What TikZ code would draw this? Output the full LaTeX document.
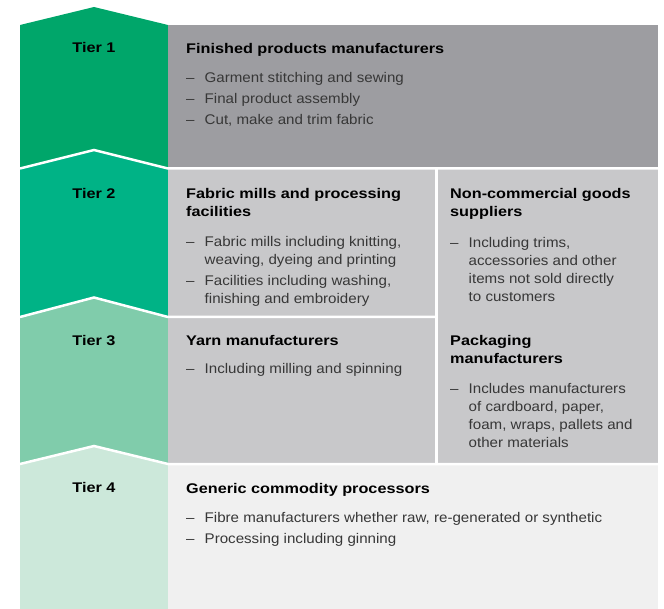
\documentclass[tikz,border=0pt]{standalone}
\usepackage{fontspec}
\setmainfont{Liberation Sans}[FakeStretch=1.08]
\newfontfamily\headfont{Liberation Sans}[FakeStretch=1.16]
\definecolor{tieronegreen}{RGB}{0,166,106}
\definecolor{tiertwogreen}{RGB}{0,179,134}
\definecolor{tierthreegreen}{RGB}{128,204,171}
\definecolor{tierfourgreen}{RGB}{204,232,218}
\definecolor{darkpanel}{RGB}{157,157,161}
\definecolor{midpanel}{RGB}{200,200,202}
\definecolor{lightpanel}{RGB}{240,240,240}
\definecolor{bodygrey}{RGB}{55,55,55}
\tikzstyle{tier} = [font=\headfont\bfseries\fontsize{14}{18}\selectfont,
                    anchor=base, inner sep=0pt, text=black]
\tikzstyle{heading} = [font=\headfont\bfseries\fontsize{14}{18}\selectfont,
                       anchor=base west, align=left, inner sep=0pt, text=black]
\tikzstyle{bullets} = [font=\fontsize{14}{18}\selectfont,
                       anchor=base west, align=left, inner sep=0pt, text=bodygrey]
\tikzstyle{divider} = [white, line width=2.5pt]
\newcommand{\dashitem}{\makebox[18.5pt][l]{\textendash}}
\newcommand{\indentline}{\hspace*{18.5pt}}

\begin{document}
\begin{tikzpicture}[x=1pt, y=-1pt]
    \useasboundingbox (0,0) rectangle (664,609);

    \fill [tieronegreen] (20,25) -- (94,7) -- (168,25) -- (168,609) -- (20,609) -- cycle;
    \fill [tiertwogreen] (20,168.5) -- (94,150) -- (168,168.5) -- (168,609) -- (20,609) -- cycle;
    \fill [tierthreegreen] (20,317) -- (94,297.5) -- (168,317) -- (168,609) -- (20,609) -- cycle;
    \fill [tierfourgreen] (20,464) -- (94,446) -- (168,464) -- (168,609) -- (20,609) -- cycle;

    \fill [darkpanel] (168,25) rectangle (658,168.5);
    \fill [midpanel] (168,168.5) rectangle (658,464);
    \fill [lightpanel] (168,464) rectangle (658,609);

    \draw [divider] (20,168.5) -- (94,150) -- (168,168.5) -- (658,168.5);
    \draw [divider] (20,317) -- (94,297.5) -- (168,317) -- (436.5,317);
    \draw [divider] (20,464) -- (94,446) -- (168,464) -- (658,464);
    \draw [divider] (436.5,168.5) -- (436.5,464);

    \node (Tier1) [tier] at (94,53) {Tier 1};
    \node (Tier2) [tier] at (94,199) {Tier 2};
    \node (Tier3) [tier] at (94,346) {Tier 3};
    \node (Tier4) [tier] at (94,492) {Tier 4};

    % multi-line nodes sit on the baseline of their last line
    \node (Finished) [heading] at (186,54) {Finished products manufacturers};
    \node (FinishedList) [bullets] at (186,125) {\dashitem Garment stitching and sewing\\[3pt]
        \dashitem Final product assembly\\[3pt]
        \dashitem Cut, make and trim fabric};

    \node (Fabric) [heading] at (186,217) {Fabric mills and processing\\facilities};
    \node (FabricList) [bullets] at (186,304) {\dashitem Fabric mills including knitting,\\
        \indentline weaving, dyeing and printing\\[3pt]
        \dashitem Facilities including washing,\\
        \indentline finishing and embroidery};

    \node (NonCommercial) [heading] at (450,217) {Non-commercial goods\\suppliers};
    \node (NonCommercialList) [bullets] at (450,301.5) {\dashitem Including trims,\\
        \indentline accessories and other\\
        \indentline items not sold directly\\
        \indentline to customers};

    \node (Yarn) [heading] at (186,346) {Yarn manufacturers};
    \node (YarnList) [bullets] at (186,374) {\dashitem Including milling and spinning};

    \node (Packaging) [heading] at (450,364) {Packaging\\manufacturers};
    \node (PackagingList) [bullets] at (450,447.5) {\dashitem Includes manufacturers\\
        \indentline of cardboard, paper,\\
        \indentline foam, wraps, pallets and\\
        \indentline other materials};

    \node (Generic) [heading] at (186,493) {Generic commodity processors};
    \node (GenericList) [bullets] at (186,543) {\dashitem Fibre manufacturers whether raw, re-generated or synthetic\\[3pt]
        \dashitem Processing including ginning};

\end{tikzpicture}
\end{document}
